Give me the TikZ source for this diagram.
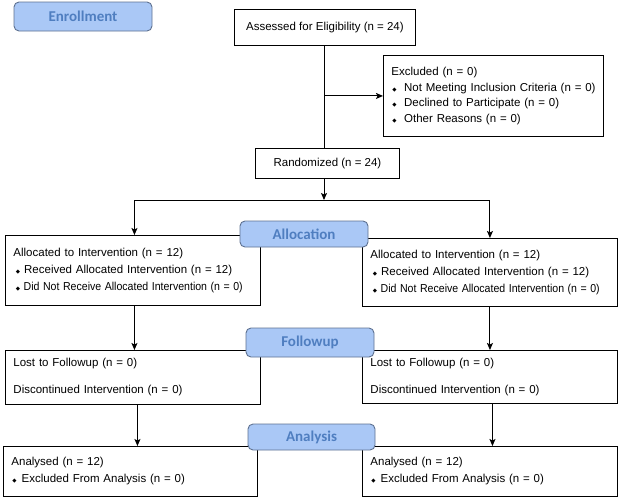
\documentclass[tikz,border=0pt]{standalone}
\usepackage{graphicx}
\usepackage{fontspec}
\setmainfont{Liberation Sans}
\newfontfamily\labfont{Carlito}
\newfontfamily\dejavu{DejaVu Sans}
\usetikzlibrary{arrows.meta}
\definecolor{labfill}{HTML}{AAC8F6}
\definecolor{labdraw}{HTML}{5E7190}
\definecolor{labtext}{HTML}{4F7EC0}
\newcommand{\bul}{{\dejavu\fontsize{5.5}{5.5}\selectfont ◆}}
\newcommand{\bl}[3]{\mbox{\hspace{#1}\bul\hspace{#2}#3}}
\newcommand{\squeeze}[1]{\scalebox{0.92}[1]{#1}}
\tikzset{
  box/.style={draw, line width=0.9pt, fill=white, inner xsep=8pt, inner ysep=0pt, anchor=north west, align=left},
  lab/.style={draw=labdraw, line width=0.9pt, fill=labfill, rounded corners=5pt, text=labtext, font=\labfont\bfseries\fontsize{15}{15}\selectfont},
  arr/.style={line width=1pt, -{Stealth[length=7pt,width=6pt,inset=1.5pt]}},
  ln/.style={line width=1pt}
}
\begin{document}
\begin{tikzpicture}[x=1pt,y=-1pt]
\useasboundingbox (0,0) rectangle (620,499);
% boxes
\node[box, align=center, minimum width=181pt, minimum height=36pt, font=\fontsize{11.5}{14}\selectfont] (assess) at (234,9) {Assessed for Eligibility (n = 24)};
\node[box, text width=204pt, minimum height=81pt, font=\fontsize{11.5}{15.5}\selectfont] (excl) at (383,55) {Excluded (n = 0)\\\bl{1pt}{7.5pt}{Not Meeting Inclusion Criteria (n = 0)}\\\bl{1pt}{7.5pt}{Declined to Participate (n = 0)}\\\bl{1pt}{7.5pt}{Other Reasons (n = 0)}};
\node[box, align=center, minimum width=144pt, minimum height=30pt, font=\fontsize{11.5}{14}\selectfont] (rand) at (255,148) {Randomized (n = 24)};
\node[box, text width=239pt, minimum height=70pt, font=\fontsize{11.5}{17}\selectfont] (alL) at (5,235) {Allocated to Intervention (n = 12)\\\bl{2.5pt}{4pt}{Received Allocated Intervention (n = 12)}\\\bl{2.5pt}{3.5pt}{\squeeze{Did Not Receive Allocated Intervention (n = 0)}}};
\node[box, text width=239pt, minimum height=68pt, font=\fontsize{11.5}{17}\selectfont] (alR) at (362,238) {Allocated to Intervention (n = 12)\\\bl{2.5pt}{4pt}{Received Allocated Intervention (n = 12)}\\\bl{2.5pt}{3.5pt}{\squeeze{Did Not Receive Allocated Intervention (n = 0)}}};
\node[box, text width=239pt, minimum height=54pt, font=\fontsize{11.5}{13}\selectfont] (fuL) at (5,350) {Lost to Followup (n = 0)\\[14pt]Discontinued Intervention (n = 0)};
\node[box, text width=239pt, minimum height=53pt, font=\fontsize{11.5}{13}\selectfont] (fuR) at (362,350) {Lost to Followup (n = 0)\\[14pt]Discontinued Intervention (n = 0)};
\node[box, text width=238pt, minimum height=50pt, font=\fontsize{11.5}{17}\selectfont] (anL) at (3,446) {Analysed (n = 12)\\\bl{1pt}{5pt}{Excluded From Analysis (n = 0)}};
\node[box, text width=239pt, minimum height=50pt, font=\fontsize{11.5}{17}\selectfont] (anR) at (362,446) {Analysed (n = 12)\\\bl{1pt}{5pt}{Excluded From Analysis (n = 0)}};
% connectors
\coordinate (sp) at (324,200);
\draw[ln] (assess.south -| sp) -- (rand.north -| sp);
\draw[arr] (excl.west -| sp) -- (excl.west);
\draw[arr] (rand.south -| sp) -- (sp);
\draw[arr] (sp) -| ([xshift=1.5pt]alL.north);
\draw[arr] (sp) -| (alR.north);
\draw[arr] ([xshift=1.5pt]alL.south) -- ([xshift=1.5pt]fuL.north);
\draw[arr] (alR.south) -- (fuR.north);
\draw[arr] ([xshift=4.5pt]fuL.south) -- ([xshift=4.5pt]fuL.south |- anL.north);
\draw[arr] ([xshift=2.5pt]fuR.south) -- ([xshift=2.5pt]fuR.south |- anR.north);
% stage labels
\node[lab, minimum width=138pt, minimum height=29pt] (enr) at (83,16.5) {Enrollment};
\node[lab, minimum width=128pt, minimum height=26pt] (alloc) at (304,234) {Allocation};
\node[lab, minimum width=128pt, minimum height=29pt] (fol) at (310,342.5) {Followup};
\node[lab, minimum width=127pt, minimum height=26pt] (ana) at (311.5,437) {Analysis};
\end{tikzpicture}
\end{document}
